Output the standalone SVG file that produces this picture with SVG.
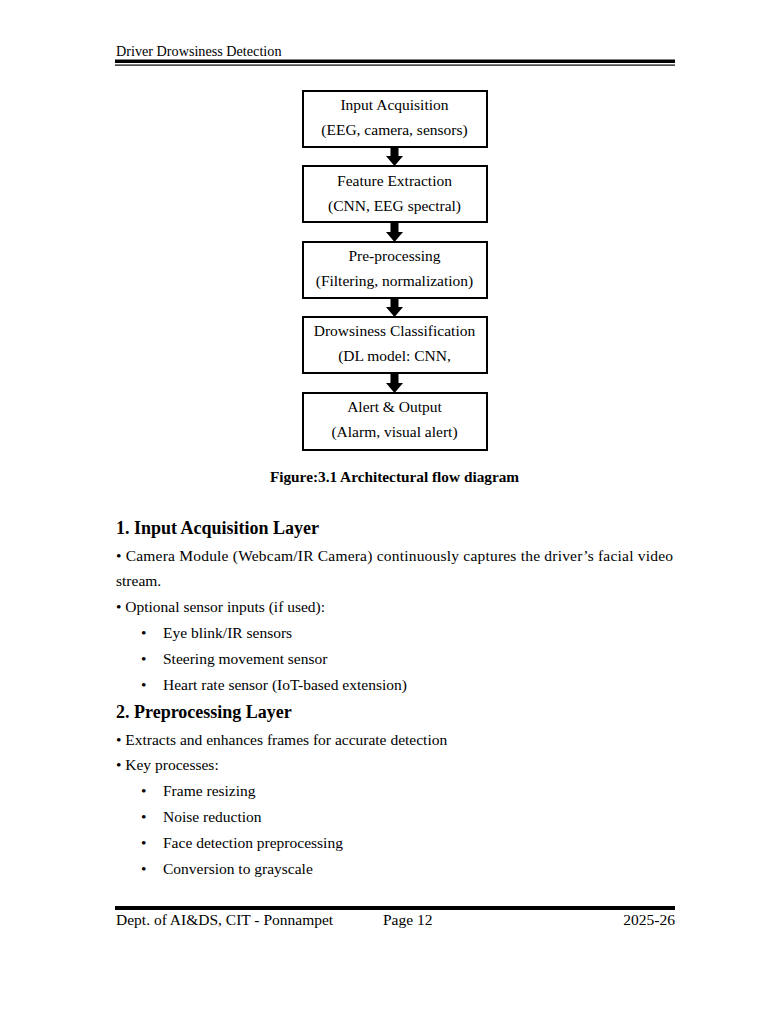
<svg xmlns="http://www.w3.org/2000/svg" width="768" height="1024" viewBox="0 0 768 1024">
<defs>
<style>
text{font-family:"Liberation Serif","Times New Roman",serif;fill:#000}
.hd{font-size:14.2px}
.bx{fill:#fff;stroke:#000;stroke-width:2}
.bt{font-size:15.5px;text-anchor:middle}
.cap{font-size:15.3px;font-weight:bold;text-anchor:middle}
.h{font-size:18px;font-weight:bold}
.b{font-size:15.5px}
.ar{fill:#000}
</style>
</defs>
<rect width="768" height="1024" fill="#fff"/>
<g id="header">
<text class="hd" x="116" y="56">Driver Drowsiness Detection</text>
<rect x="115" y="59.5" width="560" height="3.5" fill="#000"/>
<rect x="115" y="64.5" width="560" height="1.2" fill="#000"/>
</g>
<g id="n1"><rect class="bx" x="303" y="91" width="184" height="56"/><text class="bt" x="394.5" y="110">Input Acquisition</text><text class="bt" x="394.5" y="135">(EEG, camera, sensors)</text></g>
<g id="n2"><rect class="bx" x="303" y="166" width="184" height="56"/><text class="bt" x="394.5" y="186">Feature Extraction</text><text class="bt" x="394.5" y="211">(CNN, EEG spectral)</text></g>
<g id="n3"><rect class="bx" x="303" y="242" width="184" height="56"/><text class="bt" x="394.5" y="261">Pre-processing</text><text class="bt" x="394.5" y="286">(Filtering, normalization)</text></g>
<g id="n4"><rect class="bx" x="303" y="317" width="184" height="56"/><text class="bt" x="394.5" y="336">Drowsiness Classification</text><text class="bt" x="394.5" y="361">(DL model: CNN,</text></g>
<g id="n5"><rect class="bx" x="303" y="393" width="184" height="57"/><text class="bt" x="394.5" y="412">Alert &amp; Output</text><text class="bt" x="394.5" y="437">(Alarm, visual alert)</text></g>
<g id="connectors">
<path class="ar" d="M390.5 148 H398.5 V156 H403 L394.5 166 L386 156 H390.5 Z"/>
<path class="ar" d="M390.5 223 H398.5 V232 H403 L394.5 242 L386 232 H390.5 Z"/>
<path class="ar" d="M390.5 299 H398.5 V307 H403 L394.5 317 L386 307 H390.5 Z"/>
<path class="ar" d="M390.5 374 H398.5 V383 H403 L394.5 393 L386 383 H390.5 Z"/>
</g>
<text class="cap" x="394.5" y="482">Figure:3.1 Architectural flow diagram</text>
<g id="body">
<text class="h" x="116" y="534">1. Input Acquisition Layer</text>
<text class="b" x="116" y="561" textLength="557" lengthAdjust="spacing">• Camera Module (Webcam/IR Camera) continuously captures the driver’s facial video</text>
<text class="b" x="116" y="586">stream.</text>
<text class="b" x="116" y="612">• Optional sensor inputs (if used):</text>
<text class="b" x="141" y="638">•</text><text class="b" x="163" y="638">Eye blink/IR sensors</text>
<text class="b" x="141" y="664">•</text><text class="b" x="163" y="664">Steering movement sensor</text>
<text class="b" x="141" y="690">•</text><text class="b" x="163" y="690">Heart rate sensor (IoT-based extension)</text>
<text class="h" x="116" y="718">2. Preprocessing Layer</text>
<text class="b" x="116" y="745">• Extracts and enhances frames for accurate detection</text>
<text class="b" x="116" y="770">• Key processes:</text>
<text class="b" x="141" y="796">•</text><text class="b" x="163" y="796">Frame resizing</text>
<text class="b" x="141" y="822">•</text><text class="b" x="163" y="822">Noise reduction</text>
<text class="b" x="141" y="848">•</text><text class="b" x="163" y="848">Face detection preprocessing</text>
<text class="b" x="141" y="874">•</text><text class="b" x="163" y="874">Conversion to grayscale</text>
</g>
<g id="footer">
<rect x="115" y="906" width="560" height="4" fill="#000"/>
<text class="b" x="116" y="925">Dept. of AI&amp;DS, CIT - Ponnampet</text>
<text class="b" x="383" y="925">Page 12</text>
<text class="b" x="675" y="925" text-anchor="end">2025-26</text>
</g>
</svg>
